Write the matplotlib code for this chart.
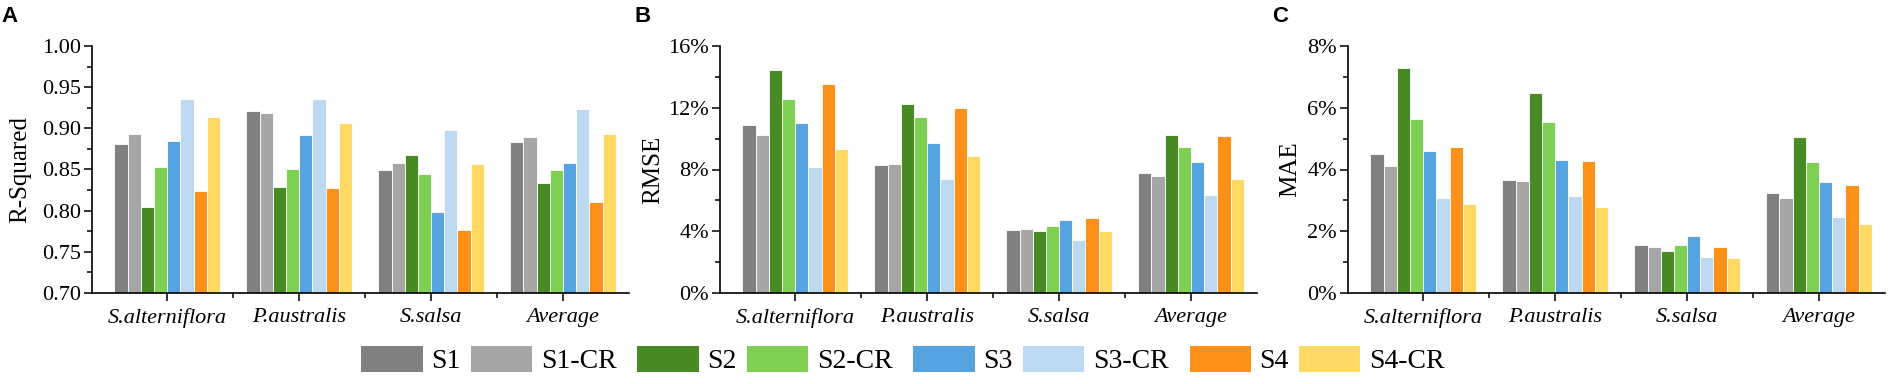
import numpy as np
import matplotlib
matplotlib.use("Agg")
import matplotlib.pyplot as plt
from matplotlib.patches import Patch
from matplotlib.ticker import MultipleLocator, FuncFormatter

plt.rcParams['font.family'] = ['Liberation Serif', 'DejaVu Serif']

categories = ['S.alterniflora', 'P.australis', 'S.salsa', 'Average']
series = ['S1', 'S1-CR', 'S2', 'S2-CR', 'S3', 'S3-CR', 'S4', 'S4-CR']
colors = ['#808080', '#a6a6a6', '#488a24', '#7ed052',
          '#55a3e0', '#bdd9f2', '#fd9118', '#ffd962']

# R-Squared, one row per series, one column per category
r2 = [
    [0.881, 0.921, 0.850, 0.884],
    [0.893, 0.919, 0.858, 0.890],
    [0.805, 0.829, 0.868, 0.834],
    [0.853, 0.851, 0.845, 0.849],
    [0.885, 0.892, 0.798, 0.858],
    [0.936, 0.936, 0.898, 0.923],
    [0.824, 0.827, 0.776, 0.810],
    [0.914, 0.907, 0.857, 0.893],
]

# RMSE (fraction)
rmse = [
    [0.1091, 0.0827, 0.0411, 0.0777],
    [0.1024, 0.0836, 0.0413, 0.0758],
    [0.1444, 0.1225, 0.0400, 0.1024],
    [0.1256, 0.1141, 0.0435, 0.0946],
    [0.1100, 0.0970, 0.0474, 0.0849],
    [0.0818, 0.0736, 0.0342, 0.0632],
    [0.1355, 0.1199, 0.0489, 0.1018],
    [0.0935, 0.0885, 0.0403, 0.0740],
]

# MAE (fraction)
mae = [
    [0.0449, 0.0365, 0.0157, 0.0324],
    [0.0412, 0.0363, 0.0149, 0.0309],
    [0.0730, 0.0647, 0.0137, 0.0504],
    [0.0562, 0.0553, 0.0156, 0.0423],
    [0.0460, 0.0430, 0.0183, 0.0358],
    [0.0307, 0.0313, 0.0115, 0.0245],
    [0.0474, 0.0429, 0.0150, 0.0351],
    [0.0288, 0.0278, 0.0113, 0.0225],
]

fig = plt.figure(figsize=(18.94, 3.84), dpi=100)

W = 537 / 1894
H = (293 - 46) / 384
B0 = (384 - 293) / 384
lefts = [92 / 1894, 720 / 1894, 1348 / 1894]

panels = [
    (r2, 'R-Squared', (0.70, 1.00), 0.05, 0.025, lambda v, p: '%.2f' % v, -0.114),
    (rmse, 'RMSE', (0.0, 0.16), 0.04, 0.02, lambda v, p: '%d%%' % round(v * 100), -0.104),
    (mae, 'MAE', (0.0, 0.08), 0.02, 0.01, lambda v, p: '%d%%' % round(v * 100), -0.088),
]
letters = ['A', 'B', 'C']
letter_x = [1, 634, 1272]

x = np.arange(len(categories))
bw = 0.1

for k, (data, ylab, ylim, major, minor, fmt, lx) in enumerate(panels):
    ax = fig.add_axes([lefts[k], B0, W, H])
    for i, s in enumerate(series):
        ax.bar(x + (i - 3.5) * bw, data[i], bw, bottom=0, color=colors[i],
               edgecolor='white', linewidth=0.6)
    ax.set_ylim(*ylim)
    ax.set_xlim(-0.57, 3.5)
    ax.yaxis.set_major_locator(MultipleLocator(major))
    ax.yaxis.set_minor_locator(MultipleLocator(minor))
    ax.yaxis.set_major_formatter(FuncFormatter(fmt))
    ax.set_xticks(x)
    ax.set_xticks([0.5, 1.5, 2.5], minor=True)
    ax.set_xticklabels(categories, fontstyle='italic', fontsize=16)
    ax.tick_params(axis='y', labelsize=16)
    ax.tick_params(which='major', direction='out', length=6, width=1.1, pad=2)
    ax.tick_params(which='minor', direction='out', length=3.5, width=1.1)
    ax.tick_params(axis='x', which='major', pad=5)
    for side in ['top', 'right']:
        ax.spines[side].set_visible(False)
    for side in ['left', 'bottom']:
        ax.spines[side].set_linewidth(1.2)
    ax.set_ylabel(ylab, fontsize=18)
    ax.yaxis.set_label_coords(lx, 0.5)
    fig.text(letter_x[k] / 1894, 1 - 6 / 384, letters[k], fontsize=16,
             fontweight='bold', family='Liberation Sans', ha='left', va='top')

# legend in four pairs
pair_x = [489, 765, 1041, 1317]
for p in range(4):
    handles = [Patch(facecolor=colors[2 * p + j], edgecolor='none') for j in range(2)]
    fig.legend(handles, series[2 * p:2 * p + 2], ncol=2, loc='center',
               bbox_to_anchor=(pair_x[p] / 1894, (384 - 360) / 384),
               frameon=False, fontsize=20, handlelength=2.2, handleheight=1.05,
               handletextpad=0.3, columnspacing=0.4, borderpad=0, borderaxespad=0)

fig.savefig('out.png', dpi=100)
